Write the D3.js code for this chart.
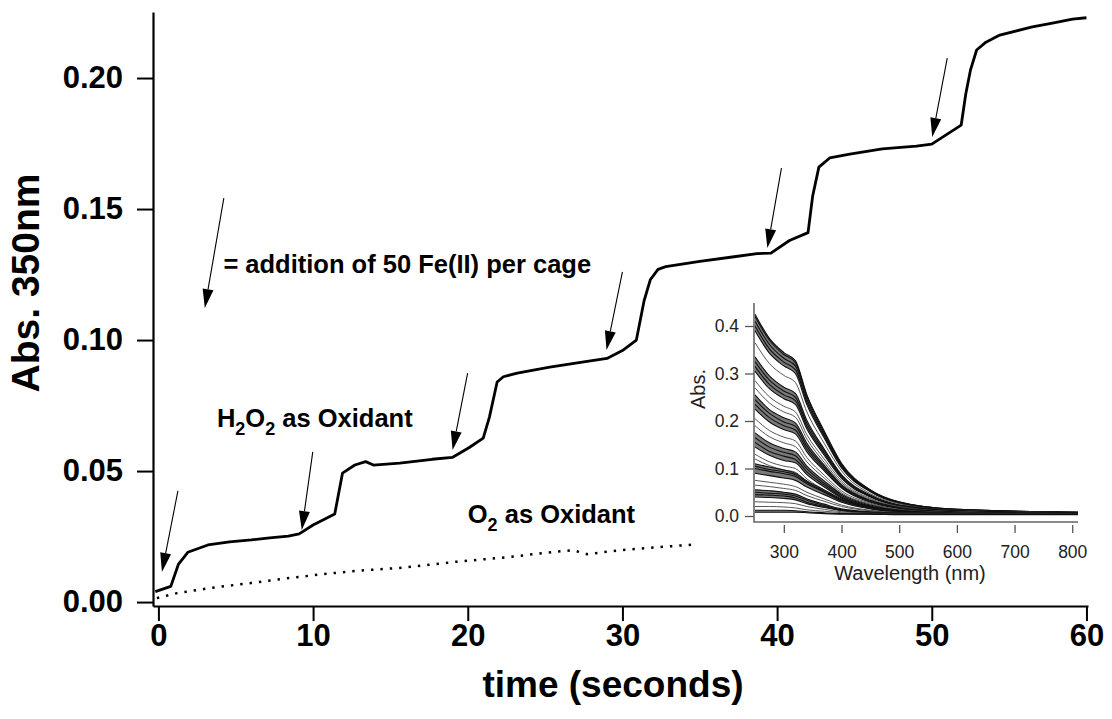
<!DOCTYPE html>
<html>
<head>
<meta charset="utf-8">
<script src="https://cdn.jsdelivr.net/npm/d3@7"></script>
<style>
  body { margin: 0; background: #fff; }
  svg { display: block; }
</style>
</head>
<body>
<div id="chart"></div>
<script>
// Fe(II) additions followed at 350 nm, with inset of the full spectra

// H2O2 run (solid line)
const time_h2o2 = [-0.2, 0.8, 1.3, 1.9, 3.2, 4.6, 6.0, 7.2, 8.4, 9.1, 10.0, 11.4, 11.9, 12.7, 13.4, 13.9,
  15.6, 17.7, 19.0, 20.1, 21.0, 21.4, 21.9, 22.3, 23.2, 25.3, 27.4, 29.0, 30.0, 30.9, 31.4, 31.8,
  32.3, 32.8, 35.0, 37.1, 38.7, 39.6, 40.8, 42.0, 42.3, 42.7, 43.4, 44.7, 46.8, 49.0, 50.0, 51.1,
  51.9, 52.2, 52.5, 52.9, 53.5, 54.4, 56.5, 57.8, 59.1, 60.0];
const abs_h2o2 = [0.0040, 0.0060, 0.0145, 0.0190, 0.0218, 0.0230, 0.0237, 0.0245, 0.0252, 0.0260, 0.0294, 0.0336, 0.0492, 0.0523, 0.0536, 0.0523,
  0.0530, 0.0545, 0.0552, 0.0590, 0.0626, 0.0706, 0.0840, 0.0860, 0.0874, 0.0897, 0.0916, 0.0930, 0.0960, 0.1000, 0.1150, 0.1230,
  0.1270, 0.1280, 0.1300, 0.1317, 0.1330, 0.1332, 0.1380, 0.1410, 0.1550, 0.1660, 0.1695, 0.1710, 0.1730, 0.1740, 0.1748, 0.1790,
  0.1820, 0.1940, 0.2030, 0.2107, 0.2137, 0.2164, 0.2195, 0.2210, 0.2225, 0.2230];

// O2 run (dotted line)
const time_o2 = [-0.1, 1.2, 3.5, 6.0, 8.5, 10.7, 13.0, 15.5, 17.5, 19.1, 21.0, 22.7, 25.0, 26.8, 27.7, 29.9, 32.0, 34.7];
const abs_o2 = [0.0015, 0.0034, 0.0055, 0.0073, 0.0092, 0.0107, 0.0120, 0.0130, 0.0142, 0.0153, 0.0163, 0.0172, 0.0188, 0.0198, 0.0183, 0.0198, 0.0208, 0.0220];

const xTicks = [0, 10, 20, 30, 40, 50, 60];
const yTicks = [0, 0.05, 0.10, 0.15, 0.20];

// addition arrows: tip and tail in data units (last one is the legend arrow)
const arrowTipT = [0.23, 9.27, 19.02, 28.97, 39.37, 50.03, 3.0];
const arrowTipA = [0.0115, 0.0275, 0.0580, 0.0962, 0.1351, 0.1775, 0.1122];
const arrowTailT = [1.26, 9.98, 19.99, 30.0, 40.28, 51.0, 4.23];
const arrowTailA = [0.0424, 0.0573, 0.0874, 0.1260, 0.1656, 0.2076, 0.1542];

// inset spectra
const wavelengths = [250, 275, 300, 320, 340, 370, 400, 450, 500, 600, 810];
const spectra = [
  [0.425, 0.374, 0.344, 0.327, 0.255, 0.179, 0.111, 0.055, 0.030, 0.014, 0.008],
  [0.420, 0.370, 0.340, 0.323, 0.252, 0.176, 0.109, 0.055, 0.029, 0.014, 0.008],
  [0.410, 0.361, 0.332, 0.316, 0.246, 0.172, 0.107, 0.053, 0.029, 0.014, 0.008],
  [0.400, 0.352, 0.324, 0.308, 0.240, 0.168, 0.104, 0.052, 0.028, 0.013, 0.008],
  [0.390, 0.343, 0.316, 0.300, 0.234, 0.164, 0.101, 0.051, 0.027, 0.013, 0.007],
  [0.365, 0.321, 0.296, 0.281, 0.219, 0.153, 0.095, 0.047, 0.026, 0.012, 0.007],
  [0.335, 0.295, 0.271, 0.258, 0.201, 0.141, 0.087, 0.044, 0.023, 0.011, 0.006],
  [0.325, 0.286, 0.263, 0.250, 0.195, 0.137, 0.085, 0.042, 0.023, 0.011, 0.006],
  [0.315, 0.277, 0.255, 0.243, 0.189, 0.132, 0.082, 0.041, 0.022, 0.010, 0.006],
  [0.305, 0.268, 0.247, 0.235, 0.183, 0.128, 0.079, 0.040, 0.021, 0.010, 0.006],
  [0.285, 0.251, 0.231, 0.219, 0.171, 0.120, 0.074, 0.037, 0.020, 0.009, 0.005],
  [0.270, 0.238, 0.219, 0.208, 0.162, 0.113, 0.070, 0.035, 0.019, 0.009, 0.005],
  [0.255, 0.224, 0.207, 0.196, 0.153, 0.107, 0.066, 0.033, 0.018, 0.008, 0.005],
  [0.245, 0.216, 0.198, 0.189, 0.147, 0.103, 0.064, 0.032, 0.017, 0.008, 0.005],
  [0.235, 0.207, 0.190, 0.181, 0.141, 0.099, 0.061, 0.031, 0.016, 0.008, 0.004],
  [0.225, 0.198, 0.182, 0.173, 0.135, 0.095, 0.059, 0.029, 0.016, 0.007, 0.004],
  [0.205, 0.180, 0.166, 0.158, 0.123, 0.086, 0.053, 0.027, 0.014, 0.007, 0.004],
  [0.190, 0.167, 0.154, 0.146, 0.114, 0.080, 0.049, 0.025, 0.013, 0.006, 0.004],
  [0.175, 0.154, 0.142, 0.135, 0.105, 0.074, 0.046, 0.023, 0.012, 0.006, 0.004],
  [0.165, 0.145, 0.134, 0.127, 0.099, 0.069, 0.043, 0.021, 0.012, 0.005, 0.004],
  [0.155, 0.136, 0.126, 0.119, 0.093, 0.065, 0.040, 0.020, 0.011, 0.005, 0.004],
  [0.145, 0.128, 0.117, 0.112, 0.087, 0.061, 0.038, 0.019, 0.010, 0.005, 0.004],
  [0.130, 0.114, 0.105, 0.100, 0.078, 0.055, 0.034, 0.017, 0.009, 0.005, 0.004],
  [0.120, 0.106, 0.097, 0.092, 0.072, 0.050, 0.031, 0.016, 0.008, 0.005, 0.004],
  [0.110, 0.103, 0.097, 0.090, 0.074, 0.055, 0.036, 0.019, 0.010, 0.005, 0.004],
  [0.105, 0.098, 0.093, 0.087, 0.071, 0.052, 0.034, 0.018, 0.010, 0.005, 0.004],
  [0.100, 0.094, 0.089, 0.083, 0.068, 0.050, 0.032, 0.017, 0.009, 0.005, 0.004],
  [0.090, 0.085, 0.080, 0.075, 0.061, 0.045, 0.029, 0.015, 0.008, 0.005, 0.004],
  [0.075, 0.071, 0.067, 0.062, 0.050, 0.036, 0.023, 0.012, 0.007, 0.005, 0.004],
  [0.065, 0.062, 0.058, 0.054, 0.043, 0.031, 0.020, 0.011, 0.007, 0.005, 0.004],
  [0.055, 0.053, 0.050, 0.046, 0.036, 0.025, 0.015, 0.009, 0.006, 0.005, 0.004],
  [0.050, 0.048, 0.046, 0.042, 0.033, 0.022, 0.013, 0.008, 0.006, 0.005, 0.004],
  [0.045, 0.044, 0.042, 0.038, 0.029, 0.020, 0.012, 0.007, 0.005, 0.005, 0.004],
  [0.040, 0.039, 0.037, 0.034, 0.026, 0.018, 0.011, 0.007, 0.005, 0.004, 0.004],
  [0.030, 0.029, 0.028, 0.026, 0.020, 0.014, 0.009, 0.006, 0.005, 0.004, 0.004],
  [0.020, 0.020, 0.019, 0.017, 0.013, 0.010, 0.007, 0.005, 0.004, 0.004, 0.004],
  [0.012, 0.012, 0.012, 0.011, 0.009, 0.007, 0.005, 0.004, 0.004, 0.004, 0.004],
  [0.008, 0.008, 0.008, 0.008, 0.007, 0.005, 0.004, 0.004, 0.003, 0.003, 0.003]
];
// dense groups of spectra (first, last index) that show up as dark bands
const bandRanges = [[0, 4], [6, 9], [12, 15], [18, 21], [24, 27], [30, 33], [36, 37]];
const insetXTicks = [300, 400, 500, 600, 700, 800];
const insetYTicks = [0.0, 0.1, 0.2, 0.3, 0.4];

const W = 1112, H = 719;
const FONT = "'Liberation Sans', Arial, Helvetica, sans-serif";

const svg = d3.select("#chart").append("svg")
  .attr("width", W).attr("height", H)
  .style("background", "#fff")
  .attr("font-family", FONT);

//// main chart ////
const x = d3.scaleLinear().domain([-0.35, 60.1]).range([153, 1088]);
const y = d3.scaleLinear().domain([-0.0015, 0.2252]).range([606, 12]);

const xAxis = svg.append("g")
  .attr("transform", `translate(0,${y.range()[0]})`)
  .call(d3.axisBottom(x).tickValues(xTicks).tickSize(15).tickPadding(3).tickSizeOuter(0));
const yAxis = svg.append("g")
  .attr("transform", `translate(${x.range()[0]},0)`)
  .call(d3.axisLeft(y).tickValues(yTicks).tickSize(16).tickPadding(14)
    .tickFormat(d3.format(".2f")).tickSizeOuter(0));

[xAxis, yAxis].forEach(g => {
  g.select(".domain").attr("stroke", "#000").attr("stroke-width", 2.2);
  g.selectAll(".tick line").attr("stroke", "#000").attr("stroke-width", 2);
  g.selectAll(".tick text")
    .attr("fill", "#000")
    .attr("font-family", FONT)
    .attr("font-size", 31)
    .attr("font-weight", "bold");
});

svg.append("text")
  .attr("x", 613).attr("y", 697)
  .attr("text-anchor", "middle")
  .attr("font-size", 37).attr("font-weight", "bold")
  .text("time (seconds)");

svg.append("text")
  .attr("transform", "translate(39,283) rotate(-90)")
  .attr("text-anchor", "middle")
  .attr("font-size", 39).attr("font-weight", "bold")
  .text("Abs. 350nm");

const h2o2 = time_h2o2.map((t, i) => [t, abs_h2o2[i]]);
const o2 = time_o2.map((t, i) => [t, abs_o2[i]]);
const line = d3.line().x(d => x(d[0])).y(d => y(d[1]));

svg.append("path")
  .datum(o2)
  .attr("d", line)
  .attr("fill", "none")
  .attr("stroke", "#000")
  .attr("stroke-width", 2.5)
  .attr("stroke-dasharray", "2.4,7");

svg.append("path")
  .datum(h2o2)
  .attr("d", line)
  .attr("fill", "none")
  .attr("stroke", "#000")
  .attr("stroke-width", 2.8)
  .attr("stroke-linejoin", "round");

// arrows
const head_len = 19, head_half = 5.5;
arrowTipT.forEach((t, i) => {
  const x1 = x(arrowTailT[i]), y1 = y(arrowTailA[i]);
  const x2 = x(t), y2 = y(arrowTipA[i]);
  const len = Math.hypot(x2 - x1, y2 - y1);
  const ux = (x2 - x1) / len, uy = (y2 - y1) / len;
  const bx = x2 - ux * head_len, by = y2 - uy * head_len;
  svg.append("line")
    .attr("x1", x1).attr("y1", y1).attr("x2", bx).attr("y2", by)
    .attr("stroke", "#000").attr("stroke-width", 1.1);
  svg.append("path")
    .attr("d", `M${x2},${y2}L${bx - uy * head_half},${by + ux * head_half}L${bx + uy * head_half},${by - ux * head_half}Z`)
    .attr("fill", "#000");
});

// annotations
svg.append("text")
  .attr("x", x(4.2)).attr("y", y(0.1256))
  .attr("font-size", 25.5).attr("font-weight", "bold")
  .text("= addition of 50 Fe(II) per cage");

function subLabel(tx, ty, parts) {
  const t = svg.append("text")
    .attr("x", tx).attr("y", ty)
    .attr("font-size", 25.5).attr("font-weight", "bold");
  parts.forEach(p => {
    if (p.sub) {
      t.append("tspan").attr("font-size", 18).attr("dy", 8).text(p.s);
    } else {
      t.append("tspan").attr("dy", p.after ? -8 : 0).text(p.s);
    }
  });
}
subLabel(x(3.78), y(0.0668), [
  { s: "H" }, { s: "2", sub: true }, { s: "O", after: true }, { s: "2", sub: true }, { s: " as Oxidant", after: true }
]);
subLabel(x(20.0), y(0.0302), [
  { s: "O" }, { s: "2", sub: true }, { s: " as Oxidant", after: true }
]);

//// inset ////
const xi = d3.scaleLinear().domain([250, 810]).range([755, 1078]);
const yi = d3.scaleLinear().domain([0, 0.44]).range([516, 307]);
const inset = svg.append("g");

const band_area = d3.area()
  .x((d, k) => xi(wavelengths[k]))
  .y0(d => yi(d[1]))
  .y1(d => yi(d[0]))
  .curve(d3.curveMonotoneX);
bandRanges.forEach(([a, b]) => {
  const pairs = wavelengths.map((w, k) => [spectra[a][k], spectra[b][k]]);
  inset.append("path")
    .datum(pairs)
    .attr("d", band_area)
    .attr("fill", "#7a7a7a");
});

const spec_line = d3.line()
  .x((d, k) => xi(wavelengths[k]))
  .y(d => yi(d))
  .curve(d3.curveMonotoneX);
const inBand = i => bandRanges.some(([a, b]) => i >= a && i <= b);
inset.selectAll(".spec")
  .data(spectra)
  .enter()
  .append("path")
  .attr("class", "spec")
  .attr("d", spec_line)
  .attr("fill", "none")
  .attr("stroke", (d, i) => inBand(i) ? "#111" : "#444")
  .attr("stroke-width", (d, i) => inBand(i) ? 1.1 : 0.9);

const xiAxis = inset.append("g")
  .attr("transform", "translate(0,525)")
  .call(d3.axisBottom(xi).tickValues(insetXTicks).tickSize(8).tickPadding(13));
const yiAxis = inset.append("g")
  .attr("transform", "translate(754,0)")
  .call(d3.axisLeft(yi).tickValues(insetYTicks).tickSize(9).tickPadding(6)
    .tickFormat(d3.format(".1f")));
[xiAxis, yiAxis].forEach(g => {
  g.select(".domain").remove();
  g.selectAll(".tick line").attr("stroke", "#555").attr("stroke-width", 1.3);
  g.selectAll(".tick text")
    .attr("fill", "#222")
    .attr("font-family", FONT)
    .attr("font-size", 17.5);
});
inset.append("path")
  .attr("d", "M754,303V522H1078")
  .attr("fill", "none")
  .attr("stroke", "#666")
  .attr("stroke-width", 1.6);

inset.append("text")
  .attr("x", 910).attr("y", 580)
  .attr("text-anchor", "middle")
  .attr("font-size", 20).attr("fill", "#222")
  .text("Wavelength (nm)");
inset.append("text")
  .attr("transform", "translate(705,389) rotate(-90)")
  .attr("text-anchor", "middle")
  .attr("font-size", 20).attr("fill", "#222")
  .text("Abs.");
</script>
</body>
</html>
